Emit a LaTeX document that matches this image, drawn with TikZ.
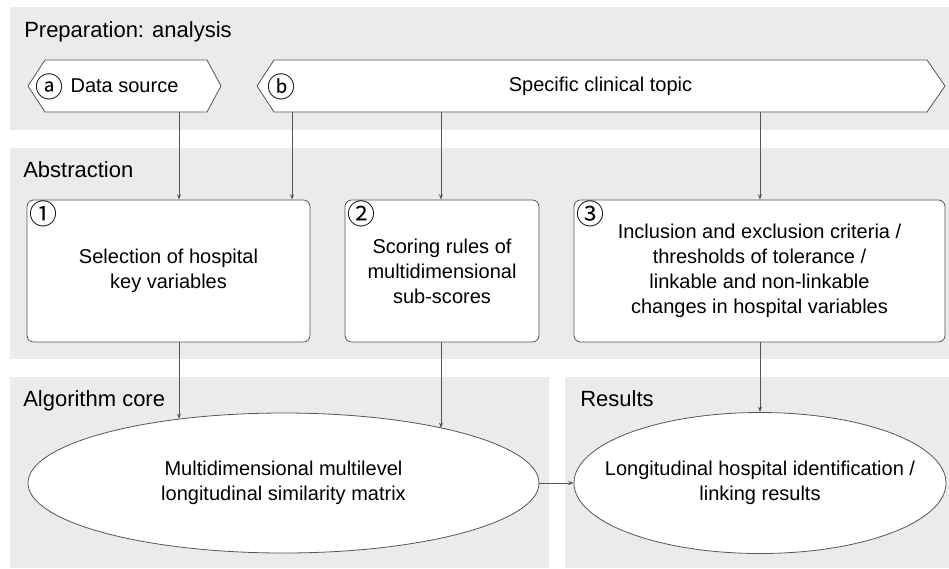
\documentclass[tikz,border=0pt]{standalone}
\usepackage{fontspec}
\setmainfont{Liberation Sans}
\newfontfamily\circfont{Noto Sans CJK SC}
\usetikzlibrary{shapes.geometric,arrows.meta,fit}
\definecolor{band}{RGB}{235,235,235}
\definecolor{linec}{RGB}{85,85,85}
\tikzset{
  bandbox/.style={fill=band,draw=none},
  hdr/.style={anchor=base west,inner sep=0,font=\fontsize{16.5}{20}\selectfont},
  txt/.style={align=center,inner sep=0,font=\fontsize{15}{18.75}\selectfont},
  boxnode/.style={draw=linec,fill=white,rounded corners=5pt,inner sep=0,line width=0.6pt},
  ellnode/.style={draw=linec,fill=white,ellipse,inner sep=0,line width=0.6pt},
  hexline/.style={draw=linec,fill=white,line width=0.6pt},
  circnum/.style={inner sep=0,font=\circfont\fontsize{21}{22}\selectfont},
  arr/.style={draw=linec,line width=0.6pt,-{Stealth[length=4pt,width=3pt]}},
}
\begin{document}
\begin{tikzpicture}[x=0.75pt,y=-0.75pt]
\useasboundingbox (0,0) rectangle (949,568);
% bands
\fill[bandbox] (10,7) rectangle (949,130);
\fill[bandbox] (10,148) rectangle (949,359);
\fill[bandbox] (10,377) rectangle (549,568);
\fill[bandbox] (565,377) rectangle (949,568);
\node[hdr] (hprep) at (24,37) {Preparation: analysis};
\node[hdr] (habs) at (23,177) {Abstraction};
\node[hdr] (halg) at (23,406) {Algorithm core};
\node[hdr] (hres) at (580,406) {Results};
% hexagons
\path[hexline] (28,86) -- (45,60) -- (207,60) -- (221,86) -- (207,112) -- (45,112) -- cycle;
\node[fit={(45,60) (207,112)},inner sep=0] (hexa) {};
\node[txt] (hexatxt) at (124.5,86) {Data source};
\node[circnum] (ca) at (49,87) {ⓐ};
\path[hexline] (257,86) -- (274,60) -- (927,60) -- (945,86) -- (927,112) -- (274,112) -- cycle;
\node[fit={(274,60) (927,112)},inner sep=0] (hexb) {};
\node[txt] (hexbtxt) at (600.5,86) {Specific clinical topic};
\node[circnum] (cb) at (281,87) {ⓑ};
% boxes
\node[boxnode,fit={(27,200) (310,342)}] (b1) {};
\node[txt] (b1t) at (b1.center) {Selection of hospital\\key variables};
\node[circnum] (n1) at (43.5,213.5) {①};
\node[boxnode,fit={(345,200) (539,342)}] (b2) {};
\node[txt] (b2t) at (b2.center) {Scoring rules of\\multidimensional\\sub-scores};
\node[circnum] (n2) at (361.5,213.5) {②};
\node[boxnode,fit={(574,200) (945,342)}] (b3) {};
\node[txt] (b3t) at (b3.center) {Inclusion and exclusion criteria /\\thresholds of tolerance /\\linkable and non-linkable\\changes in hospital variables};
\node[circnum] (n3) at (590.5,213.5) {③};
% ellipses
\node[ellnode,minimum width=511*0.75pt,minimum height=140*0.75pt] (e1) at (283.5,483) {};
\node[txt] (e1t) at (e1.center) {Multidimensional multilevel\\longitudinal similarity matrix};
\node[ellnode,minimum width=372*0.75pt,minimum height=141*0.75pt] (e2) at (760,483) {};
\node[txt] (e2t) at (e2.center) {Longitudinal hospital identification /\\linking results};
% x positions
\coordinate (xa) at (179,0);
\coordinate (xb) at (292,0);
\coordinate (xc) at (441,0);
\coordinate (xd) at (760,0);
\coordinate (e1a) at (179,419);
\coordinate (e1b) at (441,428);
% arrows
\draw[arr] (hexa.south -| xa) -- (b1.north -| xa);
\draw[arr] (hexb.south -| xb) -- (b1.north -| xb);
\draw[arr] (hexb.south -| xc) -- (b2.north -| xc);
\draw[arr] (hexb.south -| xd) -- (b3.north -| xd);
\draw[arr] (b1.south -| xa) -- (e1a);
\draw[arr] (b2.south -| xc) -- (e1b);
\draw[arr] (b3.south -| xd) -- (e2.north);
\draw[arr] (e1.east) -- (e2.west);
\end{tikzpicture}
\end{document}
